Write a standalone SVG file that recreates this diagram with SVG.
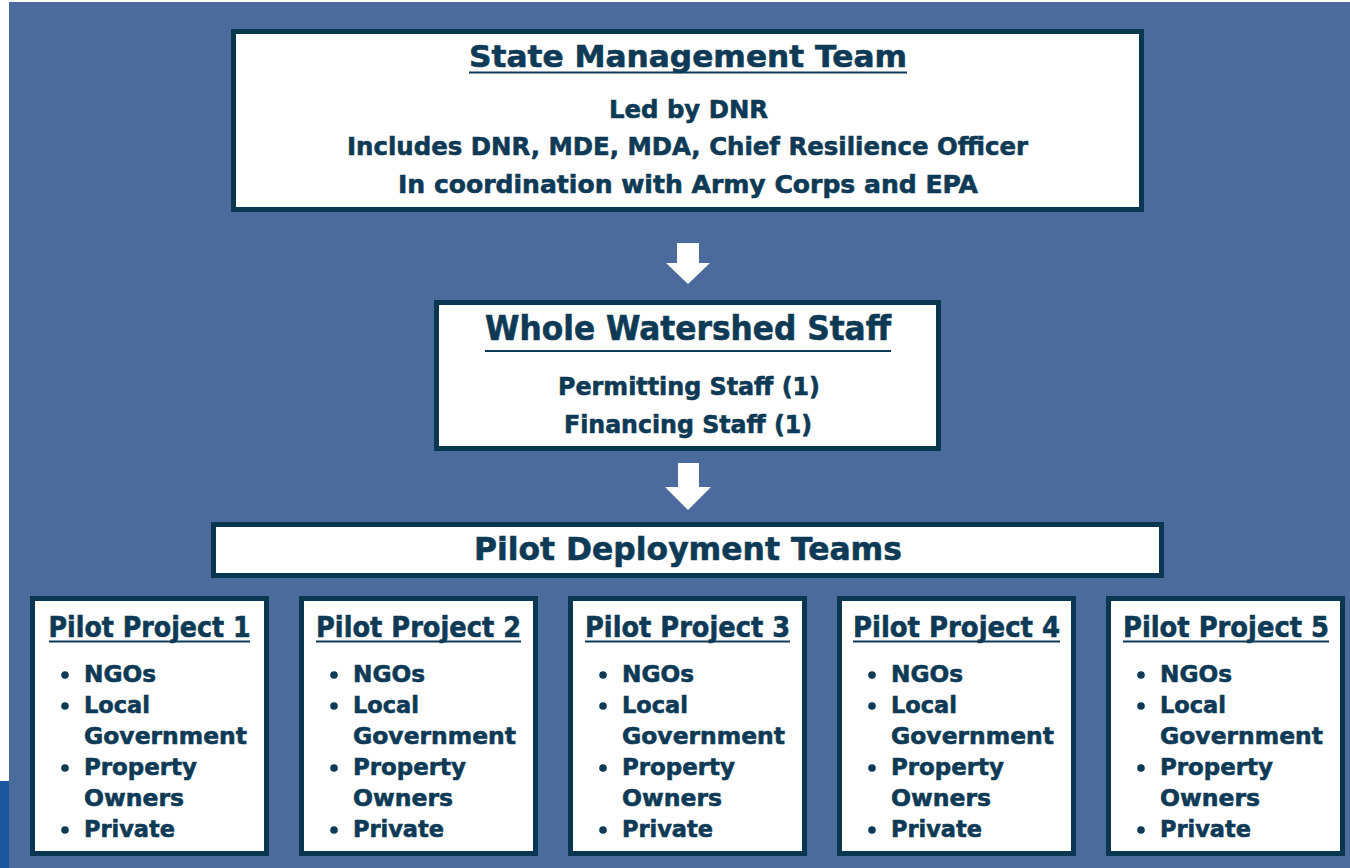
<svg xmlns="http://www.w3.org/2000/svg" width="1350" height="868" viewBox="0 0 1350 868">
<style>
.box{fill:#ffffff;stroke:#0b3650;stroke-width:5}
.t{font-family:"DejaVu Sans","Liberation Sans",sans-serif;font-weight:bold;fill:#0e3a56;stroke:#0e3a56;stroke-width:0.6}
.c{text-anchor:middle}
.ul{stroke:#0e3a56;stroke-width:2.2}
.arrow{fill:#ffffff}
.b{fill:#0e3a56}
.h1{font-size:31px}
.h2{font-size:25px}
.h3{font-size:28px}
.li{font-size:23.5px}
</style>
<defs>
<g id="items">
<circle class="b" cx="35" cy="675" r="3.8"/>
<text class="t li" x="54" y="682" textLength="72" lengthAdjust="spacingAndGlyphs">NGOs</text>
<circle class="b" cx="35" cy="706" r="3.8"/>
<text class="t li" x="54" y="713" textLength="66" lengthAdjust="spacingAndGlyphs">Local</text>
<text class="t li" x="54" y="744" textLength="163" lengthAdjust="spacingAndGlyphs">Government</text>
<circle class="b" cx="35" cy="768" r="3.8"/>
<text class="t li" x="54" y="775" textLength="113" lengthAdjust="spacingAndGlyphs">Property</text>
<text class="t li" x="54" y="806" textLength="100" lengthAdjust="spacingAndGlyphs">Owners</text>
<circle class="b" cx="35" cy="830" r="3.8"/>
<text class="t li" x="54" y="837" textLength="91" lengthAdjust="spacingAndGlyphs">Private</text>
</g>
</defs>
<rect x="0" y="0" width="1350" height="868" fill="#ffffff"/>
<rect x="9" y="2" width="1341" height="866" fill="#4a6b9b"/>
<rect x="0" y="781" width="9" height="87" fill="#1c58a0"/>

<g id="state-management-team">
<rect class="box" x="233.5" y="31.5" width="908" height="178"/>
<text class="t h1 c" x="688" y="67" textLength="438" lengthAdjust="spacingAndGlyphs">State Management Team</text>
<line class="ul" x1="469" y1="72.5" x2="907" y2="72.5"/>
<text class="t h2 c" x="688.5" y="118" textLength="159" lengthAdjust="spacingAndGlyphs">Led by DNR</text>
<text class="t h2 c" x="687.5" y="155" textLength="681" lengthAdjust="spacingAndGlyphs">Includes DNR, MDE, MDA, Chief Resilience Officer</text>
<text class="t h2 c" x="688" y="193" textLength="580" lengthAdjust="spacingAndGlyphs">In coordination with Army Corps and EPA</text>
</g>

<g id="connectors">
<polygon class="arrow" points="677,243 699,243 699,263 710,263 688,284 666,263 677,263"/>
<polygon class="arrow" points="678,463 699,463 699,487 711,487 688,510 665,487 678,487"/>
</g>

<g id="whole-watershed-staff">
<rect class="box" x="436.5" y="302.5" width="502" height="146"/>
<text class="t c" style="font-size:33px" x="688" y="340" textLength="406" lengthAdjust="spacingAndGlyphs">Whole Watershed Staff</text>
<line class="ul" x1="485" y1="351" x2="891" y2="351"/>
<text class="t h2 c" x="689" y="395" textLength="262" lengthAdjust="spacingAndGlyphs">Permitting Staff (1)</text>
<text class="t h2 c" x="688" y="433" textLength="248" lengthAdjust="spacingAndGlyphs">Financing Staff (1)</text>
</g>

<g id="pilot-deployment-teams">
<rect class="box" x="213.5" y="524.5" width="948" height="51"/>
<text class="t c" style="font-size:32px" x="688" y="560" textLength="428" lengthAdjust="spacingAndGlyphs">Pilot Deployment Teams</text>
</g>

<g id="pilot-project-1">
<rect class="box" x="32.5" y="598.5" width="234" height="255"/>
<text class="t h3 c" x="149.5" y="637" textLength="202" lengthAdjust="spacingAndGlyphs">Pilot Project 1</text>
<line class="ul" x1="49" y1="641.5" x2="250" y2="641.5"/>
<use href="#items" x="30"/>
</g>

<g id="pilot-project-2">
<rect class="box" x="301.5" y="598.5" width="234" height="255"/>
<text class="t h3 c" x="418.5" y="637" textLength="205" lengthAdjust="spacingAndGlyphs">Pilot Project 2</text>
<line class="ul" x1="316" y1="641.5" x2="521" y2="641.5"/>
<use href="#items" x="299"/>
</g>

<g id="pilot-project-3">
<rect class="box" x="570.5" y="598.5" width="234" height="255"/>
<text class="t h3 c" x="687.5" y="637" textLength="205" lengthAdjust="spacingAndGlyphs">Pilot Project 3</text>
<line class="ul" x1="585" y1="641.5" x2="790" y2="641.5"/>
<use href="#items" x="568"/>
</g>

<g id="pilot-project-4">
<rect class="box" x="839.5" y="598.5" width="234" height="255"/>
<text class="t h3 c" x="956.5" y="637" textLength="207" lengthAdjust="spacingAndGlyphs">Pilot Project 4</text>
<line class="ul" x1="853" y1="641.5" x2="1060" y2="641.5"/>
<use href="#items" x="837"/>
</g>

<g id="pilot-project-5">
<rect class="box" x="1108.5" y="598.5" width="234" height="255"/>
<text class="t h3 c" x="1226" y="637" textLength="206" lengthAdjust="spacingAndGlyphs">Pilot Project 5</text>
<line class="ul" x1="1123" y1="641.5" x2="1329" y2="641.5"/>
<use href="#items" x="1106"/>
</g>
</svg>
